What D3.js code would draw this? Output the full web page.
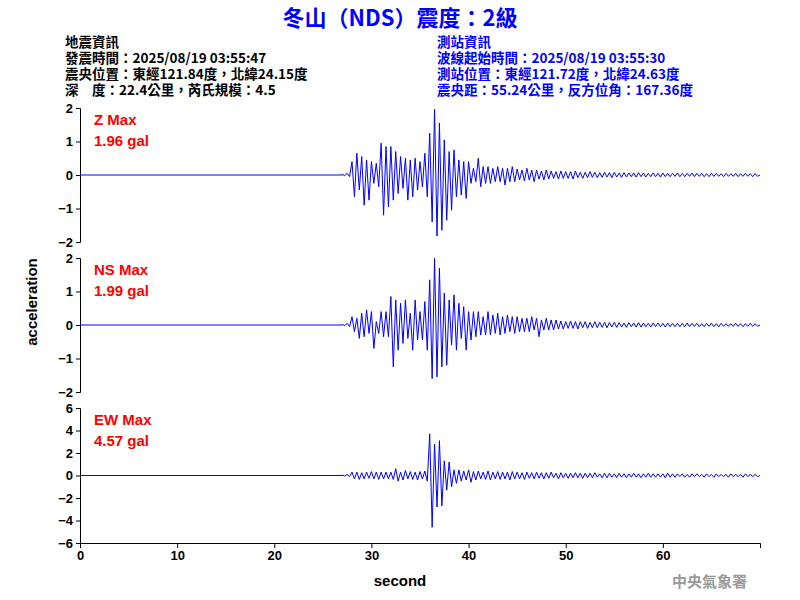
<!DOCTYPE html>
<html><head><meta charset="utf-8">
<script src="https://cdn.jsdelivr.net/npm/d3@7"></script>
<style>body{margin:0;background:#fff}text{font-family:Arial,"Liberation Sans",sans-serif}</style>
</head><body><div id="chart"></div>
<script>
// envelope of each trace, one value per 0.5 s starting at 27.0 s
var t0 = 27.0, dt = 0.5;
var zUp = [0.02,0.05,0.4,0.65,0.55,0.45,0.4,0.35,0.95,0.85,
  0.85,0.7,0.55,0.5,0.45,0.5,0.4,0.65,1.25,1.96,
  1.55,1.05,0.7,0.75,0.45,0.4,0.4,0.2,0.5,0.25,
  0.25,0.2,0.25,0.2,0.2,0.25,0.18,0.15,0.2,0.15,
  0.15,0.12,0.15,0.12,0.1,0.12,0.1,0.1,0.12,0.08,
  0.08,0.1,0.08,0.07,0.08,0.07,0.08,0.06,0.07,0.06,
  0.06,0.07,0.06,0.05,0.06,0.05,0.06,0.05,0.05,0.06,
  0.05,0.05,0.06,0.05,0.05,0.04,0.05,0.05,0.04,0.05,
  0.04,0.05,0.04,0.05,0.04,0.04];
var zDown = [0.02,0.05,0.65,0.45,0.9,0.75,0.25,0.35,1.2,0.95,
  0.75,0.55,0.4,0.75,0.65,0.45,0.35,0.65,1.4,1.82,
  1.65,1.35,1.05,0.65,0.6,0.7,0.25,0.2,0.35,0.25,
  0.25,0.2,0.2,0.3,0.2,0.2,0.15,0.18,0.15,0.2,
  0.12,0.15,0.12,0.1,0.12,0.1,0.1,0.12,0.08,0.1,
  0.08,0.07,0.08,0.07,0.06,0.08,0.06,0.07,0.06,0.05,
  0.06,0.05,0.06,0.05,0.05,0.06,0.05,0.05,0.04,0.05,
  0.05,0.04,0.05,0.04,0.05,0.05,0.04,0.04,0.05,0.04,
  0.04,0.05,0.04,0.04,0.05,0.04];
var nsUp = [0.02,0.05,0.25,0.2,0.35,0.45,0.4,0.1,0.4,0.4,
  0.85,0.75,0.65,0.75,0.35,0.75,0.4,0.7,1.35,1.99,
  1.7,0.95,0.75,0.9,0.65,0.55,0.4,0.4,0.4,0.25,
  0.4,0.3,0.35,0.25,0.3,0.25,0.25,0.2,0.2,0.25,
  0.2,0.15,0.2,0.15,0.15,0.12,0.1,0.12,0.1,0.1,
  0.1,0.08,0.1,0.08,0.08,0.07,0.08,0.07,0.06,0.07,
  0.06,0.07,0.06,0.05,0.06,0.06,0.05,0.06,0.05,0.05,
  0.05,0.06,0.05,0.05,0.04,0.05,0.05,0.04,0.05,0.04,
  0.04,0.05,0.04,0.04,0.05,0.04];
var nsDown = [0.02,0.05,0.2,0.4,0.35,0.25,0.7,0.25,0.35,0.35,
  1.25,0.75,0.55,0.4,0.75,0.45,0.45,0.75,1.6,1.55,
  1.25,1.2,0.6,0.75,0.4,0.75,0.45,0.35,0.3,0.3,
  0.3,0.25,0.3,0.25,0.2,0.25,0.2,0.2,0.2,0.15,
  0.35,0.15,0.15,0.15,0.12,0.12,0.1,0.1,0.12,0.08,
  0.1,0.08,0.08,0.07,0.08,0.06,0.07,0.06,0.07,0.05,
  0.06,0.06,0.05,0.06,0.05,0.05,0.06,0.05,0.05,0.05,
  0.05,0.05,0.04,0.05,0.05,0.04,0.05,0.05,0.04,0.04,
  0.04,0.04,0.05,0.04,0.04,0.04];
var ewUp = [0.05,0.1,0.3,0.3,0.25,0.3,0.35,0.3,0.3,0.3,
  0.3,0.6,0.3,0.45,0.35,0.3,0.35,0.4,3.7,2.8,
  3.1,1.3,1.2,0.5,0.5,0.4,0.5,0.35,0.4,0.3,
  0.4,0.3,0.35,0.3,0.3,0.35,0.3,0.25,0.3,0.25,
  0.3,0.25,0.25,0.3,0.2,0.25,0.2,0.2,0.25,0.2,
  0.2,0.2,0.25,0.15,0.2,0.2,0.15,0.2,0.15,0.15,
  0.2,0.15,0.15,0.2,0.15,0.15,0.15,0.2,0.15,0.15,
  0.15,0.1,0.15,0.15,0.1,0.15,0.1,0.15,0.1,0.1,
  0.15,0.1,0.1,0.15,0.1,0.1];
var ewDown = [0.05,0.1,0.3,0.35,0.3,0.25,0.3,0.35,0.3,0.3,
  0.35,0.5,0.4,0.3,0.35,0.4,0.3,0.5,4.6,2.8,
  2.7,1.3,1.0,0.7,0.5,0.4,0.6,0.4,0.3,0.35,
  0.4,0.3,0.35,0.3,0.4,0.3,0.3,0.35,0.25,0.3,
  0.25,0.3,0.25,0.2,0.3,0.2,0.25,0.2,0.2,0.25,
  0.2,0.2,0.15,0.2,0.2,0.15,0.2,0.15,0.2,0.15,
  0.15,0.2,0.15,0.15,0.15,0.15,0.2,0.15,0.15,0.1,
  0.15,0.15,0.1,0.1,0.15,0.1,0.15,0.1,0.1,0.15,
  0.1,0.1,0.15,0.1,0.1,0.1];

var channels = ["Z", "NS", "EW"];
var maxLabels = ["1.96 gal", "1.99 gal", "4.57 gal"];
var yLimits = [2, 2, 6];
var yTickSteps = [1, 1, 2];
var xTicks = [0, 10, 20, 30, 40, 50, 60];

var width = 800, height = 600;
var svg = d3.select("#chart").append("svg").attr("width", width).attr("height", height);

var x = d3.scaleLinear().domain([0, 70]).range([80, 760]);
var panels = [[108, 242], [258, 392], [408, 543]];
var ups = [zUp, nsUp, ewUp], downs = [zDown, nsDown, ewDown];

channels.forEach(function(ch, k) {
  var lim = yLimits[k];
  var y = d3.scaleLinear().domain([-lim, lim]).range([panels[k][1], panels[k][0]]);
  var ticks = d3.range(-lim, lim + 0.001, yTickSteps[k]);
  var g = svg.append("g").attr("transform", "translate(80,0)")
    .call(d3.axisLeft(y).tickValues(ticks).tickSize(4).tickFormat(d3.format("d")));
  g.selectAll("text").style("font-size", "13px").style("font-weight", "bold").attr("fill", "#000");
  g.select(".domain").attr("stroke", "#000");

  var pts = [[0, 0], [t0, 0]];
  ups[k].forEach(function(u, i) {
    var t = t0 + i * dt;
    pts.push([t, u]);
    pts.push([t + dt / 2, -downs[k][i]]);
  });
  pts.push([70, 0]);
  svg.append("path").datum(pts)
    .attr("fill", "none").attr("stroke", "#0000ff").attr("stroke-width", 1)
    .attr("d", d3.line().x(function(d) { return x(d[0]); }).y(function(d) { return y(d[1]); }));

  svg.append("text").attr("x", 94).attr("y", panels[k][0] + 17).attr("fill", "#ff0000")
    .style("font-size", "15px").style("font-weight", "bold").text(ch + " Max");
  svg.append("text").attr("x", 94).attr("y", panels[k][0] + 38).attr("fill", "#ff0000")
    .style("font-size", "15px").style("font-weight", "bold").text(maxLabels[k]);
});

var gx = svg.append("g").attr("transform", "translate(0,543)")
  .call(d3.axisBottom(x).tickValues(xTicks).tickSize(5).tickFormat(d3.format("d")));
gx.selectAll("text").style("font-size", "13px").style("font-weight", "bold").attr("fill", "#000");

svg.append("text").attr("x", 400).attr("y", 586).attr("text-anchor", "middle")
  .style("font-size", "15px").style("font-weight", "bold").text("second");
svg.append("text").attr("transform", "translate(37,302) rotate(-90)").attr("text-anchor", "middle")
  .style("font-size", "15px").style("font-weight", "bold").text("acceleration");

var cjk = '"Noto Sans CJK TC", sans-serif';
svg.append("text").attr("x", 400).attr("y", 26).attr("text-anchor", "middle").attr("fill", "#0000ff")
  .style("font-family", cjk).style("font-size", "22px").style("font-weight", "bold")
  .text("冬山（NDS）震度：2級");

var leftInfo = ["地震資訊", "發震時間：2025/08/19 03:55:47", "震央位置：東經121.84度，北緯24.15度", "深　度：22.4公里，芮氏規模：4.5"];
var rightInfo = ["測站資訊", "波線起始時間：2025/08/19 03:55:30", "測站位置：東經121.72度，北緯24.63度", "震央距：55.24公里，反方位角：167.36度"];
[[leftInfo, 65, "#000"], [rightInfo, 437, "#0000ff"]].forEach(function(b) {
  b[0].forEach(function(s, i) {
    svg.append("text").attr("x", b[1]).attr("y", 47 + i * 16).attr("fill", b[2])
      .style("font-family", cjk).style("font-size", "13.5px").style("font-weight", "bold").text(s);
  });
});
svg.append("text").attr("x", 747).attr("y", 587).attr("text-anchor", "end").attr("fill", "#999")
  .style("font-family", cjk).style("font-size", "15px").style("font-weight", "bold").text("中央氣象署");
</script></body></html>
